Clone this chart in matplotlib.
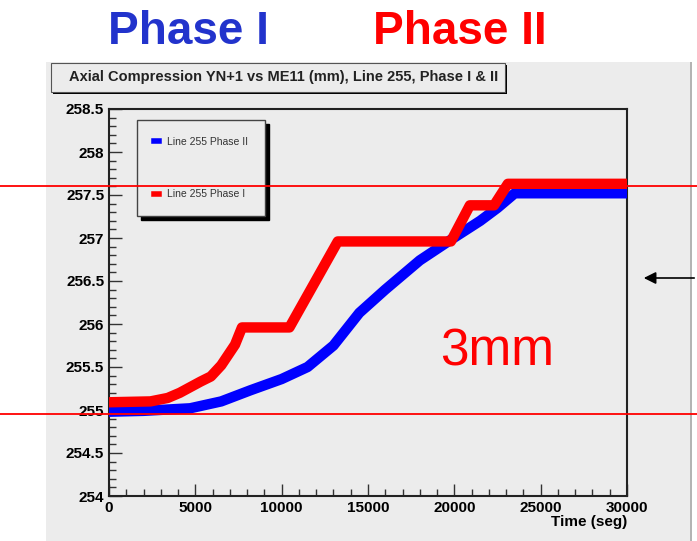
import numpy as np
import matplotlib.pyplot as plt
import matplotlib.transforms as mtransforms
from matplotlib.patches import Rectangle, FancyArrowPatch
from matplotlib.ticker import MultipleLocator

plt.rcParams['font.family'] = ['Liberation Sans', 'DejaVu Sans']

# Compresion axial, linea 255 (tiempo en seg, posicion en mm)
t_fase2 = [0, 2000, 4700, 6500, 8200, 10000, 11500, 13000, 14500, 16000,
           18000, 19800, 21500, 22500, 23500, 30000]
z_fase2 = [254.98, 254.99, 255.02, 255.10, 255.23, 255.36, 255.50, 255.75,
           256.13, 256.40, 256.74, 256.98, 257.20, 257.35, 257.52, 257.52]

t_fase1 = [0, 2400, 3400, 4100, 5300, 5900, 6500, 7300, 7700, 10450,
           13250, 19800, 20900, 22300, 23100, 30000]
z_fase1 = [255.09, 255.10, 255.14, 255.20, 255.33, 255.39, 255.52, 255.76,
           255.96, 255.96, 256.96, 256.96, 257.38, 257.38, 257.63, 257.63]

# limites de la diferencia (3mm)
lim_inf = 254.95
lim_sup = 257.60

fig = plt.figure(figsize=(6.97, 5.41), dpi=100)
fig.patch.set_facecolor('white')

# fondo gris del canvas
fig.patches.append(Rectangle((46 / 697, 0), 644 / 697, 479 / 541,
                             transform=fig.transFigure, facecolor='#ececec',
                             edgecolor='none', zorder=-5))
fig.patches.append(Rectangle((690 / 697, 0), 2 / 697, 479 / 541,
                             transform=fig.transFigure, facecolor='#b4b4b4',
                             edgecolor='none', zorder=-5))

# caja del titulo con sombra
fig.patches.append(Rectangle((53 / 697, 1 - 94 / 541), 454 / 697, 29 / 541,
                             transform=fig.transFigure, facecolor='black',
                             edgecolor='none', zorder=2))
fig.patches.append(Rectangle((51 / 697, 1 - 92 / 541), 454 / 697, 29 / 541,
                             transform=fig.transFigure, facecolor='#ececec',
                             edgecolor='#555555', lw=0.8, zorder=3))
fig.text(284 / 697, 1 - 77 / 541,
         'Axial Compression YN+1 vs ME11 (mm), Line 255, Phase I & II',
         ha='center', va='center', fontsize=10.5, weight='bold',
         color='#222222', zorder=4)

ax = fig.add_axes([109 / 697, 45 / 541, 518 / 697, 387 / 541])
ax.set_zorder(1)
ax.set_facecolor('#ececec')

ax.plot(t_fase2, z_fase2, color='#0000ff', lw=7.5, solid_joinstyle='round',
        label='Line 255 Phase II', zorder=3)
ax.plot(t_fase1, z_fase1, color='#ff0000', lw=7.5, solid_joinstyle='round',
        label='Line 255 Phase I', zorder=4)

ax.set_xlim(0, 30000)
ax.set_ylim(254, 258.5)
ax.xaxis.set_major_locator(MultipleLocator(5000))
ax.xaxis.set_minor_locator(MultipleLocator(1000))
ax.yaxis.set_minor_locator(MultipleLocator(0.1))
ax.tick_params(which='both', direction='in', top=False, right=False,
               color='#333333', labelsize=11)
ax.tick_params(which='major', length=9, width=1)
ax.tick_params(which='minor', length=5, width=1)
ax.set_yticks(np.arange(254, 258.51, 0.5))
ax.set_yticklabels(['254', '254.5', '255', '255.5', '256', '256.5',
                    '257', '257.5', '258', '258.5'])
for lab in ax.get_xticklabels() + ax.get_yticklabels():
    lab.set_fontweight('bold')
for s in ax.spines.values():
    s.set_color('#222222')
    s.set_linewidth(1.5)
ax.set_xlabel('Time (seg)', fontsize=11, weight='bold', loc='right',
              labelpad=0)

leg = ax.legend(loc='upper left', bbox_to_anchor=(0.054, 0.972),
                borderaxespad=0, fontsize=7.5, labelspacing=4.1,
                borderpad=1.6, handlelength=0.5, handletextpad=0.8,
                fancybox=False, edgecolor='#444444', facecolor='#ececec',
                framealpha=1,
                shadow={'color': 'black', 'alpha': 1, 'ox': 3, 'oy': -3})
for h in leg.legend_handles:
    h.set_linewidth(4)
for txt in leg.get_texts():
    txt.set_color('#333333')
leg.set_zorder(5)

# lineas de referencia a todo el ancho
trans = mtransforms.blended_transform_factory(fig.transFigure, ax.transData)
for y in (lim_inf, lim_sup):
    ax.plot([0, 1], [y, y], color='#ff0000', lw=1.3, transform=trans,
            clip_on=False, zorder=6)

ax.text(0.749, 0.372, '3mm', transform=ax.transAxes, fontsize=37,
        color='#ff0000', ha='center', va='center')

fig.text(188 / 697, 1 - 32 / 541, 'Phase I', color='#2233cc', fontsize=33,
         weight='bold', ha='center', va='center')
fig.text(460 / 697, 1 - 32 / 541, 'Phase II', color='#ff0000', fontsize=33,
         weight='bold', ha='center', va='center')

fig.patches.append(FancyArrowPatch(
    (697 / 697, 1 - 278 / 541), (641 / 697, 1 - 278 / 541),
    transform=fig.transFigure, arrowstyle='-|>', mutation_scale=18,
    color='black', lw=1.2, zorder=7))

fig.savefig('out.png', dpi=100)
